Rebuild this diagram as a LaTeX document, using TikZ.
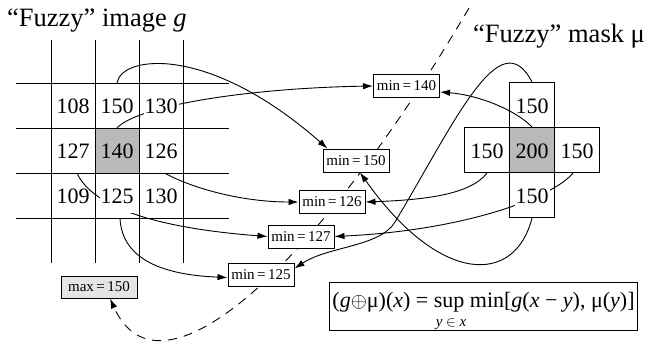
\documentclass[tikz,border=0pt]{standalone}
\usepackage{fontspec}
\setmainfont{Liberation Serif}
\usetikzlibrary{arrows.meta}
\pgfdeclarelayer{bg}
\pgfsetlayers{bg,main}
% invisible strut that puts the digits in the middle of a cell
\newcommand{\cellstrut}{\rule[-8pt]{0pt}{32pt}}
% cell value on an opaque white patch (hides connectors passing beneath)
\newcommand{\opaque}[1]{{\setlength{\fboxsep}{1pt}\colorbox{white}{\cellstrut#1}}}
\newcommand{\val}[1]{\cellstrut#1}
\tikzset{
  icell/.style={minimum width=44pt, minimum height=45pt, inner sep=0pt,
    font=\fontsize{22}{26}\selectfont},
  mcell/.style={icell, minimum width=45pt, draw, line width=1pt},
  hub/.style={fill=gray!55},
  minbox/.style={draw, fill=white, line width=1pt, minimum width=66pt,
    minimum height=23pt, inner sep=0pt, font=\fontsize{15}{18}\selectfont},
  maxbox/.style={minbox, fill=gray!20, minimum width=76pt, minimum height=22pt},
  link/.style={line width=0.9pt, -{Latex[length=10pt,width=6.5pt]}},
  gridline/.style={line width=1pt},
  title/.style={font=\fontsize{26.5}{31}\selectfont, inner sep=0pt},
}
\begin{document}
\begin{tikzpicture}[x=1pt, y=-1pt]
\useasboundingbox (0,0) rectangle (647,345);

% titles
\node[title, anchor=base west] (gtitle) at (7,26.5) {“Fuzzy” image \textit{g}};
\node[title, anchor=base west] (mtitle) at (473,43) {“Fuzzy” mask μ};

% image g: 3x3 neighbourhood
\node[icell] (i11) at (73,105.5) {\val{108}};
\node[icell] (i12) at (117,105.5) {\val{150}};
\node[icell] (i13) at (161,105.5) {\opaque{130}};
\node[icell] (i21) at (73,150.5) {\val{127}};
\node[icell, hub] (i22) at (117,150.5) {\val{140}};
\node[icell] (i23) at (161,150.5) {\val{126}};
\node[icell] (i31) at (73,195.5) {\val{109}};
\node[icell] (i32) at (117,195.5) {\opaque{125}};
\node[icell] (i33) at (161,195.5) {\val{130}};
\foreach \gx in {51,95,139,183} \draw[gridline] (\gx,40) -- (\gx,263);
\foreach \gy in {83,128,173,218} \draw[gridline] (16,\gy) -- (229,\gy);

% mask mu: cross-shaped structuring element
\node[mcell] (mt) at (532,105) {\val{150}};
\node[mcell] (ml) at (487,150) {\val{150}};
\node[mcell, hub] (mc) at (532,150) {\val{200}};
\node[mcell] (mr) at (577,150) {\val{150}};
\node[mcell] (mb) at (532,195) {\opaque{150}};

% pairwise minima
\node[minbox] (min140) at (406.5,86) {min\,=\,140};
\node[minbox] (min150) at (356,160.5) {min\,=\,150};
\node[minbox] (min126) at (332,202) {min\,=\,126};
\node[minbox] (min127) at (301,236.5) {min\,=\,127};
\node[minbox] (min125) at (261,274.5) {min\,=\,125};
\node[maxbox] (max150) at (99,287) {max\,=\,150};

% definition of the fuzzy dilation
\node[draw, line width=1pt, inner xsep=3pt, inner ysep=3pt, text height=22pt,
  text depth=20pt, minimum width=305pt, font=\fontsize{22}{26}\selectfont]
  (law) at (483.5,306)
  {(\textit{g}$\oplus$μ)(\textit{x}) = \begin{tabular}[t]{@{}l@{}}sup\\[-7pt]%
   \makebox[0pt][l]{\fontsize{15}{18}\selectfont\hspace{2pt}\textit{y} $\in$ \textit{x}}%
   \end{tabular} min[\textit{g}(\textit{x} − \textit{y}), μ(\textit{y})]};

\coordinate (dtop) at (469,8);

\begin{pgfonlayer}{bg}
  % image values to the minima
  \draw[link] (i12.north) .. controls +(5,-28) and +(-118,-104) ..
    ([xshift=5pt]min150.north west);
  \draw[link] (i22.north) .. controls +(23,-23) and +(-121,2) .. (min140.west);
  \draw[link] ([xshift=4pt]i21.south) .. controls +(15,32) and +(-118,-9) .. (min127.west);
  \draw[link] ([xshift=4pt]i23.south) .. controls +(25,14) and +(-59,0) .. (min126.west);
  \draw[link] ([xshift=3pt]i32.south) .. controls +(2,42) and +(-63,-2.5) ..
    ([yshift=-3pt]min125.west);
  % mask values to the minima
  \draw[link] (mt.north) .. controls +(-32,-62) and +(60,-100) .. (395,222)
    .. controls +(-15,25) and +(34,-22.5) .. ([yshift=6pt]min125.east);
  \draw[link] (mc.north) .. controls +(-17,-17.5) and +(38,3) .. ([yshift=-6pt]min140.east);
  \draw[link] (ml.south) .. controls +(-17,22.5) and +(55,-2) .. (min126.east);
  \draw[link] ([xshift=-4pt]mr.south) .. controls +(-18,22.5) and +(136,-6.5) .. (min127.east);
  \draw[link] (mb.south) .. controls +(-17,67.5) and +(80,113) .. ([xshift=4pt]min150.south);
  % supremum over all minima
  \draw[link, dash pattern=on 9pt off 7pt] (dtop) .. controls +(-153,260) and +(50,111) ..
    ([xshift=11pt]max150.south);
\end{pgfonlayer}
\end{tikzpicture}
\end{document}
